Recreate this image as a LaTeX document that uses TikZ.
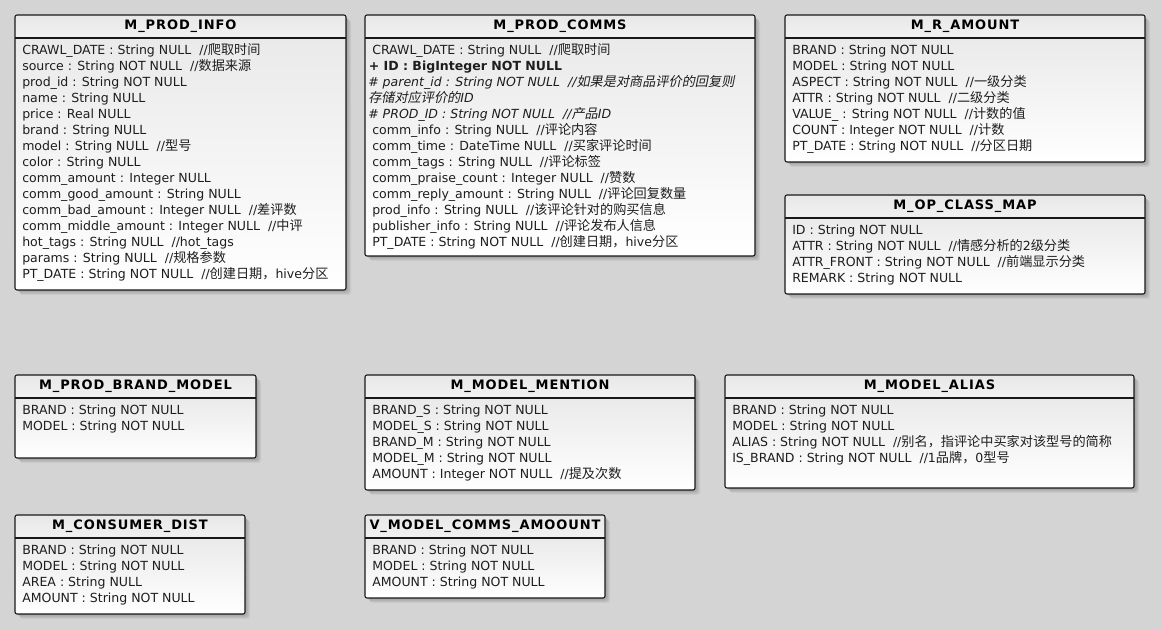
\documentclass[tikz,border=0pt]{standalone}
\usepackage{fontspec}
\setmainfont{DejaVu Sans}
\newfontfamily\zhfont{Noto Sans CJK SC}[Scale=1.05]
\newfontfamily\zhitfont{Noto Sans CJK SC}[Scale=1.05,FakeSlant=0.2]
\newfontfamily\titlefont{DejaVu Sans}[LetterSpace=7]
\newcommand\z[1]{{\zhfont #1}}
\newcommand\zi[1]{{\zhitfont #1}}
\newcommand\cmt{\ \ //}
\usetikzlibrary{fit}
\definecolor{bg}{RGB}{212,212,212}
\definecolor{ink}{RGB}{30,30,30}
\definecolor{frame}{RGB}{25,25,25}
\definecolor{headfill}{RGB}{232,232,232}
\definecolor{bodytop}{RGB}{234,234,234}
\tikzset{
  boxframe/.style={draw=frame,line width=0.8pt,rounded corners=1.5pt,inner sep=0pt},
  boxline/.style={draw=frame,line width=0.8pt},
  titletext/.style={inner sep=0pt,text=black,font=\titlefont\bfseries\fontsize{9.75}{12}\selectfont},
  rowtext/.style={inner sep=0pt,text=ink,font=\fontsize{9.4}{12}\selectfont},
}
% name, x1, y1, x2, y2, title, rows
\newcommand\umlbox[7]{%
  \foreach \k in {1,...,5}
    \fill[black,opacity=0.05,rounded corners=2pt] ({#2+\k},{#3+\k}) rectangle ({#4+\k},{#5+\k});
  \begin{scope}
    \clip[rounded corners=1.5pt] (#2,#3) rectangle (#4,#5);
    \shade[top color=bodytop,bottom color=white] (#2,{#3+23}) rectangle (#4,#5);
    \shade[top color=headfill,bottom color=headfill!60!white] (#2,#3) rectangle (#4,{#3+23});
  \end{scope}
  \node[boxframe,fit={(#2,#3) (#4,#5)}] (#1) {};
  \draw[boxline] (#2,{#3+23}) -- (#4,{#3+23});
  \node[titletext,anchor=base] (#1-title) at ({(#2+#4)/2},{#3+14.5}) {#6};
  \foreach \t [count=\i] in {#7}
    \node[rowtext,anchor=base west] (#1-\i) at ({#2+7},{#3+40+16*(\i-1)}) {\t};
}
\begin{document}
\catcode`\_=12
\begin{tikzpicture}[x=0.75pt,y=-0.75pt]
\fill[bg] (0,0) rectangle (1161,630);
\useasboundingbox (0,0) rectangle (1161,630);

\umlbox{prodinfo}{15}{15}{346}{290}{M_PROD_INFO}{
  {CRAWL_DATE : String NULL\cmt\z{爬取时间}},
  {source : String NOT NULL\cmt\z{数据来源}},
  {prod_id : String NOT NULL},
  {name : String NULL},
  {price : Real NULL},
  {brand : String NULL},
  {model : String NULL\cmt\z{型号}},
  {color : String NULL},
  {comm_amount : Integer NULL},
  {comm_good_amount : String NULL},
  {comm_bad_amount : Integer NULL\cmt\z{差评数}},
  {comm_middle_amount : Integer NULL\cmt\z{中评}},
  {hot_tags : String NULL\cmt hot_tags},
  {params : String NULL\cmt\z{规格参数}},
  {PT_DATE : String NOT NULL\cmt\z{创建日期，}hive\z{分区}}}

\umlbox{prodcomms}{365}{15}{755}{256}{M_PROD_COMMS}{
  {CRAWL_DATE : String NULL\cmt\z{爬取时间}},
  {\kern-2.6pt\bfseries + ID : BigInteger NOT NULL},
  {\kern-3pt\itshape \# parent_id : String NOT NULL\cmt\zi{如果是对商品评价的回复则}},
  {\kern-3pt\itshape \zi{存储对应评价的}ID},
  {\kern-3pt\itshape \# PROD_ID : String NOT NULL\cmt\zi{产品}ID},
  {comm_info : String NULL\cmt\z{评论内容}},
  {comm_time : DateTime NULL\cmt\z{买家评论时间}},
  {comm_tags : String NULL\cmt\z{评论标签}},
  {comm_praise_count : Integer NULL\cmt\z{赞数}},
  {comm_reply_amount : String NULL\cmt\z{评论回复数量}},
  {prod_info : String NULL\cmt\z{该评论针对的购买信息}},
  {publisher_info : String NULL\cmt\z{评论发布人信息}},
  {PT_DATE : String NOT NULL\cmt\z{创建日期，}hive\z{分区}}}

\umlbox{ramount}{785}{15}{1145}{162}{M_R_AMOUNT}{
  {BRAND : String NOT NULL},
  {MODEL : String NOT NULL},
  {ASPECT : String NOT NULL\cmt\z{一级分类}},
  {ATTR : String NOT NULL\cmt\z{二级分类}},
  {VALUE_ : String NOT NULL\cmt\z{计数的值}},
  {COUNT : Integer NOT NULL\cmt\z{计数}},
  {PT_DATE : String NOT NULL\cmt\z{分区日期}}}

\umlbox{opclass}{785}{195}{1145}{294}{M_OP_CLASS_MAP}{
  {ID : String NOT NULL},
  {ATTR : String NOT NULL\cmt\z{情感分析的}2\z{级分类}},
  {ATTR_FRONT : String NOT NULL\cmt\z{前端显示分类}},
  {REMARK : String NOT NULL}}

\umlbox{brandmodel}{15}{375}{256}{458}{M_PROD_BRAND_MODEL}{
  {BRAND : String NOT NULL},
  {MODEL : String NOT NULL}}

\umlbox{mention}{365}{375}{695}{490}{M_MODEL_MENTION}{
  {BRAND_S : String NOT NULL},
  {MODEL_S : String NOT NULL},
  {BRAND_M : String NOT NULL},
  {MODEL_M : String NOT NULL},
  {AMOUNT : Integer NOT NULL\cmt\z{提及次数}}}

\umlbox{alias}{725}{375}{1134}{488}{M_MODEL_ALIAS}{
  {BRAND : String NOT NULL},
  {MODEL : String NOT NULL},
  {ALIAS : String NOT NULL\cmt\z{别名，指评论中买家对该型号的简称}},
  {IS_BRAND : String NOT NULL\cmt 1\z{品牌，}0\z{型号}}}

\umlbox{consumer}{15}{515}{245}{614}{M_CONSUMER_DIST}{
  {BRAND : String NOT NULL},
  {MODEL : String NOT NULL},
  {AREA : String NULL},
  {AMOUNT : String NOT NULL}}

\umlbox{vmodel}{365}{515}{605}{598}{V_MODEL_COMMS_AMOOUNT}{
  {BRAND : String NOT NULL},
  {MODEL : String NOT NULL},
  {AMOUNT : String NOT NULL}}
\end{tikzpicture}
\end{document}
